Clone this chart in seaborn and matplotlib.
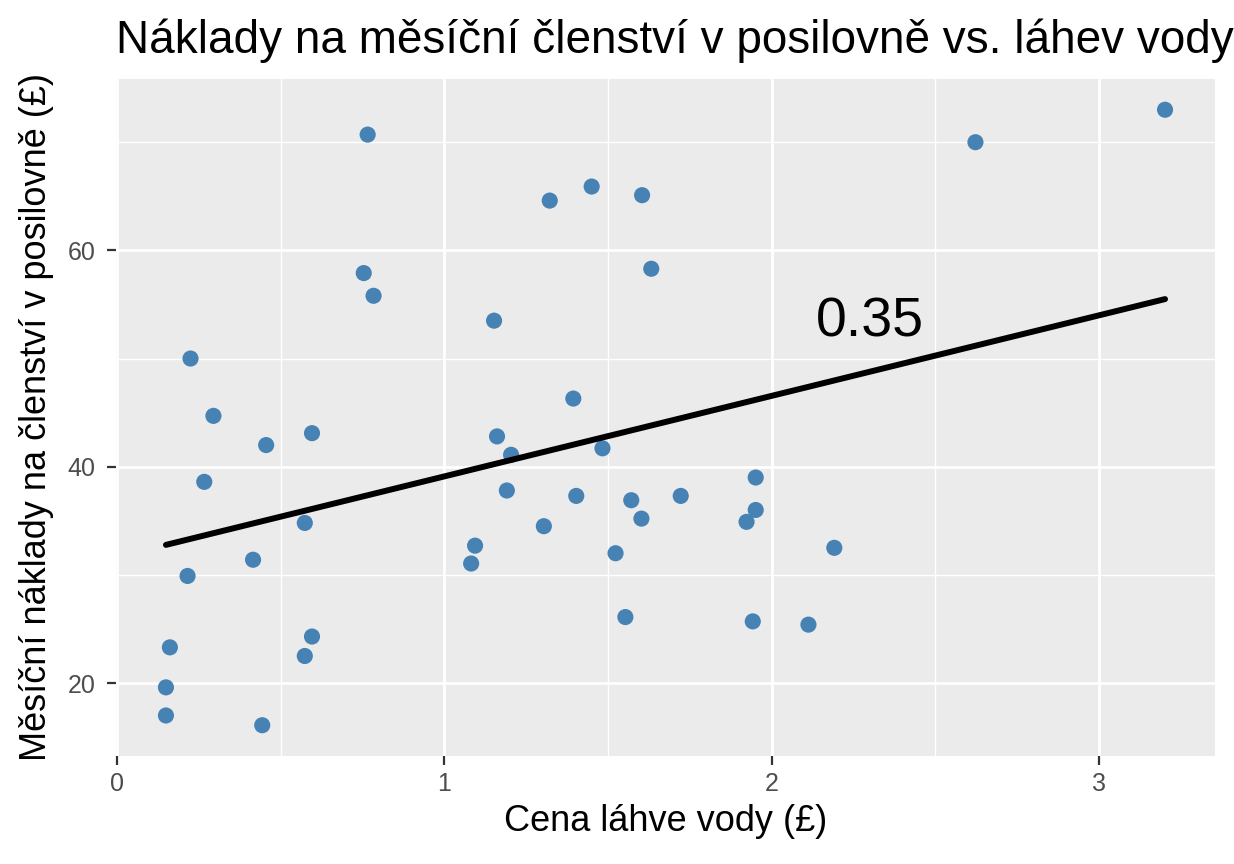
import numpy as np
import pandas as pd
import seaborn as sns
import matplotlib
matplotlib.use("Agg")
import matplotlib.pyplot as plt
from matplotlib.ticker import MultipleLocator

# price of a water bottle (GBP) vs. monthly gym membership cost (GBP)
bottle = [0.150, 0.150, 0.162, 0.216, 0.225, 0.267, 0.295, 0.416, 0.444, 0.456,
          0.574, 0.574, 0.596, 0.596, 0.754, 0.766, 0.784, 1.082, 1.094, 1.152,
          1.161, 1.191, 1.204, 1.304, 1.322, 1.394, 1.403, 1.450, 1.483, 1.523,
          1.553, 1.571, 1.602, 1.604, 1.632, 1.722, 1.923, 1.942, 1.951, 1.951,
          2.112, 2.191, 2.622, 3.201]
gym = [17.0, 19.6, 23.3, 29.9, 50.0, 38.6, 44.7, 31.4, 16.1, 42.0,
       22.5, 34.8, 24.3, 43.1, 57.9, 70.7, 55.8, 31.05, 32.7, 53.5,
       42.8, 37.8, 41.1, 34.5, 64.6, 46.3, 37.3, 65.9, 41.7, 32.0,
       26.1, 36.9, 35.2, 65.1, 58.3, 37.3, 34.9, 25.7, 36.0, 39.0,
       25.4, 32.5, 70.0, 73.0]
corr_label = "0.35"

df = pd.DataFrame({"bottle": bottle, "gym": gym})

sns.set_theme(style="darkgrid", rc={
    "axes.facecolor": "#EBEBEB",
    "grid.color": "white",
    "axes.edgecolor": "#EBEBEB",
    "xtick.bottom": True,
    "ytick.left": True,
    "xtick.major.size": 6.5,
    "ytick.major.size": 6.5,
    "xtick.major.width": 1.6,
    "ytick.major.width": 1.6,
    "xtick.color": "#333333",
    "ytick.color": "#333333",
    "xtick.labelcolor": "#4D4D4D",
    "ytick.labelcolor": "#4D4D4D",
    "text.color": "black",
    "axes.labelcolor": "black",
})
plt.rcParams['font.family'] = ['Liberation Sans', 'DejaVu Sans']

fig = plt.figure(figsize=(12.34, 8.64), dpi=100)
ax = fig.add_axes([0.094, 0.125, 0.8906, 0.7836])

sns.scatterplot(data=df, x="bottle", y="gym", color="#4682B4", s=135,
                edgecolor="none", ax=ax, zorder=3)
sns.regplot(data=df, x="bottle", y="gym", scatter=False, ci=None,
            color="black", line_kws={"lw": 4.3, "zorder": 4}, ax=ax)

ax.text(2.30, 52.0, corr_label, fontsize=40, ha="center", va="baseline",
        color="black", zorder=5)

# ggplot-like 5% expansion
xr = max(bottle) - min(bottle)
yr = max(gym) - min(gym)
ax.set_xlim(min(bottle) - 0.05 * xr, max(bottle) + 0.05 * xr)
ax.set_ylim(min(gym) - 0.05 * yr, max(gym) + 0.05 * yr)

ax.xaxis.set_major_locator(MultipleLocator(1))
ax.xaxis.set_minor_locator(MultipleLocator(0.5))
ax.yaxis.set_major_locator(MultipleLocator(20))
ax.yaxis.set_minor_locator(MultipleLocator(10))
ax.grid(which="major", color="white", lw=2.0)
ax.grid(which="minor", color="white", lw=1.0)
ax.tick_params(which="minor", length=0)
ax.tick_params(axis="x", which="major", labelsize=18, pad=5)
ax.tick_params(axis="y", which="major", labelsize=18, pad=8)
for s in ax.spines.values():
    s.set_visible(False)

ax.set_xlabel("Cena láhve vody (£)", fontsize=26, labelpad=6, color="black")
ax.set_ylabel("Měsíční náklady na členství v posilovně (£)", fontsize=26,
              labelpad=10, color="black")
ax.set_title("Náklady na měsíční členství v posilovně vs. láhev vody",
             fontsize=33, loc="left", pad=19, color="black")

plt.savefig("out.png", dpi=100)
